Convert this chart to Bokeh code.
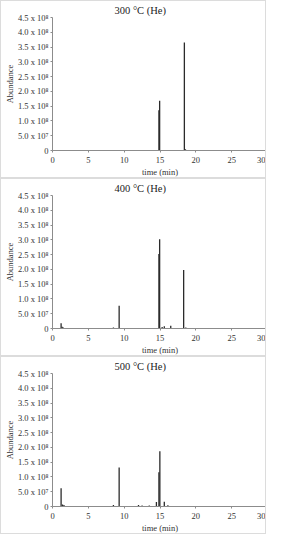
from bokeh.plotting import figure
from bokeh.layouts import column
from bokeh.models import FixedTicker, Range1d
from bokeh.embed import file_html
from bokeh.resources import INLINE

# ---- data ----
titles = ["300 °C (He)", "400 °C (He)", "500 °C (He)"]

t300 = [1.2, 14.85, 14.95, 18.4, 18.55]
a300 = [2e6, 1.36e8, 1.68e8, 3.65e8, 4e6]

t400 = [1.2, 1.35, 1.5, 2.4, 8.5, 9.3, 12.5, 14.85, 14.95, 15.3, 15.6, 16.5, 18.3, 18.6]
a400 = [1.8e7, 6e6, 3e6, 2e6, 3e6, 7.7e7, 2e6, 2.52e8, 3.02e8, 5e6, 8e6, 9e6, 1.98e8, 3e6]

t500 = [1.2, 1.4, 1.6, 2.2, 8.5, 9.3, 10.5, 11.2, 12.0, 12.5, 13.5, 14.5, 14.85, 14.98, 15.6, 16.1, 22.0]
a500 = [6.2e7, 7e6, 5e6, 2e6, 5e6, 1.32e8, 2e6, 2e6, 5e6, 3e6, 3e6, 1.5e7, 1.16e8, 1.87e8, 1.6e7, 4e6, 1e6]

time_limits = [0, 30]
x_ticks = [0, 5, 10, 15, 20, 25, 30]
y_ticks = [0, 5e7, 1e8, 1.5e8, 2e8, 2.5e8, 3e8, 3.5e8, 4e8, 4.5e8]
y_tick_labels = ["0", "5.0 x 10⁷", "1.0 x 10⁸", "1.5 x 10⁸", "2.0 x 10⁸",
                 "2.5 x 10⁸", "3.0 x 10⁸", "3.5 x 10⁸", "4.0 x 10⁸", "4.5 x 10⁸"]

FONT = "Liberation Serif"
AXIS_COLOR = "#8c8c8c"


def make_panel(title, times, abund):
    p = figure(width=266, height=178, output_backend="svg", toolbar_location=None,
               x_range=Range1d(time_limits[0], time_limits[1]),
               y_range=Range1d(y_ticks[0], y_ticks[-1]),
               min_border_left=2, min_border_right=0, min_border_top=4, min_border_bottom=3,
               styles={"border": "1px solid #dcdcdc", "box-sizing": "border-box"})
    p.title.text = title
    p.title.align = "left"
    p.title.offset = 62
    p.title.text_font = FONT
    p.title.text_font_size = "10.5px"
    p.title.text_font_style = "normal"
    p.title.text_color = "#222222"
    p.title.standoff = 3

    p.grid.visible = False
    p.outline_line_color = None
    p.background_fill_color = "white"
    p.border_fill_color = "white"

    # baseline and peaks
    p.line(time_limits, [0, 0], line_color="#333333", line_width=1)
    p.segment(x0=times, y0=[0] * len(times), x1=times, y1=abund,
              line_color="#2b2b2b", line_width=1.3)

    for ax in (p.xaxis, p.yaxis):
        ax.axis_line_color = AXIS_COLOR
        ax.major_tick_line_color = AXIS_COLOR
        ax.minor_tick_line_color = None
        ax.major_tick_out = 2
        ax.major_tick_in = 0
        ax.major_label_text_font = FONT
        ax.major_label_text_font_size = "8.5px"
        ax.major_label_text_color = "#333333"
        ax.axis_label_text_font = FONT
        ax.axis_label_text_font_size = "8.5px"
        ax.axis_label_text_font_style = "normal"
        ax.axis_label_text_color = "#333333"

    p.xaxis.ticker = FixedTicker(ticks=x_ticks)
    p.yaxis.ticker = FixedTicker(ticks=y_ticks)
    p.yaxis.major_label_overrides = {v: s for v, s in zip(y_ticks, y_tick_labels)}
    p.xaxis.axis_label = "time (min)"
    p.yaxis.axis_label = "Abundance"
    p.xaxis.major_label_standoff = 4
    p.yaxis.major_label_standoff = 2
    p.xaxis.axis_label_standoff = 1
    p.yaxis.axis_label_standoff = 0
    return p


panels = [make_panel(titles[0], t300, a300),
          make_panel(titles[1], t400, a400),
          make_panel(titles[2], t500, a500)]

layout = column(*panels, spacing=0)
open("out.html", "w").write(file_html(layout, INLINE))
